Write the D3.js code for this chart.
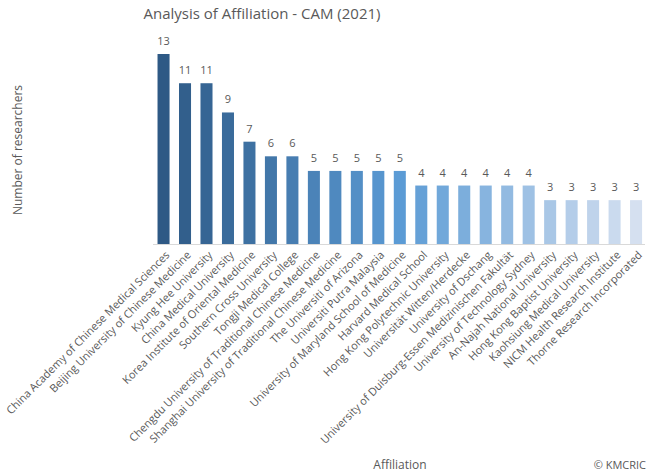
<!DOCTYPE html>
<html><head><meta charset="utf-8">
<script src="https://cdn.jsdelivr.net/npm/d3@7"></script>
<style>body{margin:0;background:#fff}svg{display:block}text{font-family:"Open Sans","Noto Sans",sans-serif;fill:#595959}</style>
</head><body><svg id="c" width="650" height="473"></svg>
<script>
const categories = ["China Academy of Chinese Medical Sciences","Beijing University of Chinese Medicine","Kyung Hee University","China Medical University","Korea Institute of Oriental Medicine","Southern Cross University","Tongji Medical College","Chengdu University of Traditional Chinese Medicine","Shanghai University of Traditional Chinese Medicine","The Universiti of Arizona","Universiti Putra Malaysia","University of Maryland School of Medicine","Harvard Medical School","Hong Kong Polytechnic University","Universität Witten/Herdecke","University of Dschang","University of Duisburg-Essen Medizinischen Fakultät","University of Technology Sydney","An-Najah National University","Hong Kong Baptist University","Kaohsiung Medical University","NICM Health Research Institute","Thorne Research Incorporated"];
const researchers = [13,11,11,9,7,6,6,5,5,5,5,5,4,4,4,4,4,4,3,3,3,3,3];
const title = "Analysis of Affiliation - CAM (2021)";
const yTitle = "Number of researchers";
const xTitle = "Affiliation";
const credit = "© KMCRIC";

const svg = d3.select("#c");
const x = d3.scaleBand().domain(categories).range([152.8, 646.8]).paddingInner(0.44).paddingOuter(0.22);
const y = d3.scaleLinear().domain([0, 13]).range([244, 54]);
const n = categories.length;
const color = d3.scaleLinear().domain([0, 11, n - 1]).range(["#2E5985", "#5B9BD5", "#D5E0F0"]).interpolate(d3.interpolateRgb);

svg.append("text").attr("x", 262).attr("y", 19).attr("text-anchor", "middle").style("font-size", "15px").text(title);

svg.selectAll("rect.bar").data(researchers).join("rect").attr("class", "bar")
  .attr("x", (d, i) => x(categories[i])).attr("width", x.bandwidth())
  .attr("y", d => y(d)).attr("height", d => y(0) - y(d))
  .attr("fill", (d, i) => color(i));

svg.selectAll("text.val").data(researchers).join("text").attr("class", "val")
  .attr("x", (d, i) => x(categories[i]) + x.bandwidth() / 2).attr("y", d => y(d) - 9)
  .attr("text-anchor", "middle").style("font-size", "11px").text(d => d);

const ax = svg.append("g").attr("transform", `translate(0,${y(0)})`).call(d3.axisBottom(x).tickSize(0).tickPadding(0));
ax.select(".domain").attr("stroke", "#d9d9d9").attr("stroke-width", 1.2).attr("d", "M153,0.5H645");
ax.selectAll(".tick text").attr("transform", "translate(4,9) rotate(-45)").attr("text-anchor", "end")
  .attr("dy", "0.35em").attr("y", 0).attr("x", 0)
  .style("font-size", "11px").style("font-family", "'Open Sans','Noto Sans',sans-serif").attr("fill", "#595959");

svg.append("text").attr("transform", "translate(22,150) rotate(-90)").attr("text-anchor", "middle").style("font-size", "12px").text(yTitle);
svg.append("text").attr("x", 400).attr("y", 469).attr("text-anchor", "middle").style("font-size", "12px").text(xTitle);
svg.append("text").attr("x", 646).attr("y", 469).attr("text-anchor", "end").style("font-size", "11px").text(credit);
</script></body></html>
